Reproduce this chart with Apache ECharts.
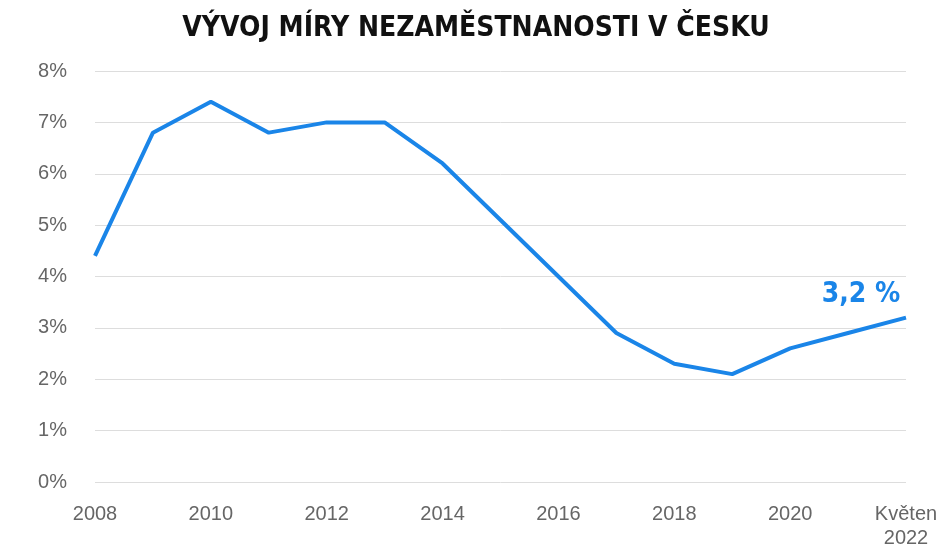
<!DOCTYPE html>
<html>
<head>
<meta charset="utf-8">
<script src="https://cdn.jsdelivr.net/npm/echarts@6/dist/echarts.min.js"></script>
<style>html,body{margin:0;padding:0;background:#fff}#chart{width:952px;height:554px}</style>
</head>
<body>
<div id="chart"></div>
<script>
const years = ['2008','2009','2010','2011','2012','2013','2014','2015','2016','2017','2018','2019','2020','2021','Květen\n2022'];
const unemployment = [4.4, 6.8, 7.4, 6.8, 7.0, 7.0, 6.2, 5.1, 4.0, 2.9, 2.3, 2.1, 2.6, 2.9, 3.2];

const chart = echarts.init(document.getElementById('chart'));
chart.setOption({
  animation: false,
  title: {
    text: 'VÝVOJ MÍRY NEZAMĚSTNANOSTI V ČESKU',
    left: 'center', top: 10,
    textStyle: { fontFamily: 'DejaVu Sans Condensed', fontWeight: 'bold', fontSize: 28, color: '#111' }
  },
  grid: { left: 95, right: 46, top: 71, bottom: 72 },
  xAxis: {
    type: 'category', data: years, boundaryGap: false,
    axisLine: { show: false }, axisTick: { show: false },
    axisLabel: {
      color: '#666', fontSize: 20, margin: 20, lineHeight: 24, fontFamily: 'Liberation Sans',
      interval: (i) => i % 2 === 0 || i === years.length - 1
    }
  },
  yAxis: {
    type: 'value', min: 0, max: 8, interval: 1,
    axisLabel: { formatter: '{value}%', color: '#666', fontSize: 20, margin: 28, fontFamily: 'Liberation Sans' },
    splitLine: { lineStyle: { color: '#ddd' } }
  },
  series: [{
    type: 'line', data: unemployment, symbol: 'none',
    lineStyle: { color: '#1a85e8', width: 4 },
    markPoint: {
      symbol: 'circle', symbolSize: 0,
      data: [{ coord: [years.length - 1, unemployment[unemployment.length - 1]] }],
      label: {
        show: true, formatter: '3,2 %', position: 'top', offset: [-45, -4],
        color: '#1a85e8', fontSize: 28, fontWeight: 'bold', fontFamily: 'DejaVu Sans Condensed'
      }
    }
  }]
});
</script>
</body>
</html>
